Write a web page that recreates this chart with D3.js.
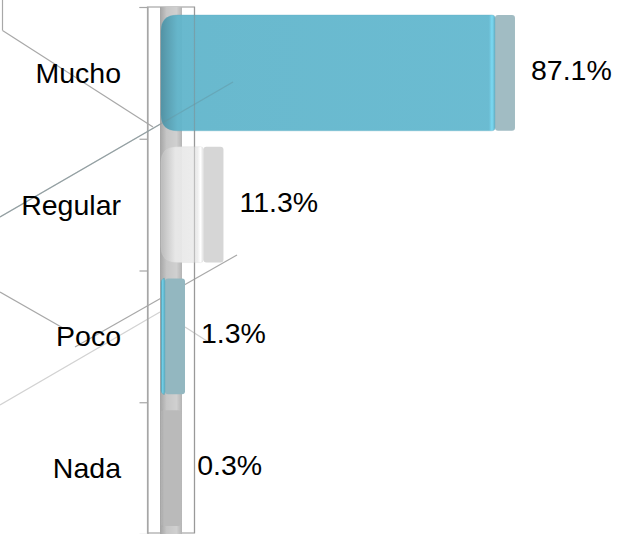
<!DOCTYPE html>
<html>
<head>
<meta charset="utf-8">
<script src="https://cdn.jsdelivr.net/npm/d3@7"></script>
<style>
  html, body { margin: 0; padding: 0; background: #fff; }
  svg { display: block; }
  text { font-family: "Liberation Sans", Arial, sans-serif; }
</style>
</head>
<body>
<div id="chart"></div>
<script>
// Survey answers and their shares (%)
const categories = ["Mucho", "Regular", "Poco", "Nada"];
const values = [87.1, 11.3, 1.3, 0.3];
const valueLabels = ["87.1%", "11.3%", "1.3%", "0.3%"];

// Face colour and side (depth) colour for each bar
const faceColors = ["#63b8cf", "#ececec", "#5fb5cc", "#bdbdbd"];
const sideColors = ["#a1bcc3", "#d6d6d6", "#93b7c0", "#bababa"];

const W = 621, H = 534;
const depth = 20;          // visible length of the 3D side of a bar
const floorW = 22;         // width of the shaded floor under the bars

const svg = d3.select("#chart").append("svg")
  .attr("width", W).attr("height", H);
svg.append("rect").attr("width", W).attr("height", H).attr("fill", "#fff");

const x = d3.scaleLinear().domain([0, 100]).range([160, 544.6]);
const y = d3.scaleBand().domain(categories).range([7, 534])
  .paddingInner(0.12).paddingOuter(0.06);
const yTicks = d3.scaleLinear().domain([0, categories.length]).range([7, 534]);

const defs = svg.append("defs");

// Perspective guide lines of the rotated plot area
const guides = [
  { p: [[2.5, 0], [2.5, 30.5]], c: "#a8a8a8" },
  { p: [[2.5, 30.5], [153, 127]], c: "#a8a8a8" },
  { p: [[0, 217], [233, 82]], c: "#a8a8a8" },
  { p: [[0, 292], [63, 328]], c: "#a8a8a8" },
  { p: [[237, 255], [75, 347]], c: "#a8a8a8" },
  { p: [[0, 405], [160, 312]], c: "#d2d2d2" },
  { p: [[185, 327], [210, 343]], c: "#cfcfcf" }
];
const line = d3.line();
svg.append("g").selectAll("path").data(guides).join("path")
  .attr("d", d => line(d.p))
  .attr("fill", "none").attr("stroke", d => d.c).attr("stroke-width", 1.2);

// Back wall outline
const wallL = 147.5, wallR = 194.5;
svg.append("rect")
  .attr("x", wallL).attr("y", 7).attr("width", wallR - wallL).attr("height", 526)
  .attr("fill", "none").attr("stroke", "#a6a6a6").attr("stroke-width", 1.2);

// Shaded floor strip along the zero line
const floorGrad = defs.append("linearGradient").attr("id", "floorGrad")
  .attr("x1", 0).attr("x2", 1).attr("y1", 0).attr("y2", 0);
[["0", "#a4a4a4"], ["0.3", "#c6c6c6"], ["0.75", "#d0d0d0"], ["1", "#b4b4b4"]]
  .forEach(([o, c]) => floorGrad.append("stop").attr("offset", o).attr("stop-color", c));
svg.append("rect")
  .attr("x", x(0)).attr("y", 7).attr("width", floorW).attr("height", 527)
  .attr("fill", "url(#floorGrad)");

// Axis with tick marks at the category boundaries
const axis = d3.axisLeft(yTicks).tickValues(d3.range(categories.length + 1))
  .tickSize(8).tickFormat("");
const axG = svg.append("g").attr("transform", `translate(${wallL},0)`).call(axis);
axG.selectAll("path, line").attr("stroke", "#a6a6a6").attr("stroke-width", 1.2);

// Bars: side face then front face
const bars = svg.append("g").selectAll("g").data(categories).join("g");

bars.append("rect")
  .attr("x", (d, i) => x(values[i]))
  .attr("y", d => y(d))
  .attr("width", depth)
  .attr("height", y.bandwidth())
  .attr("rx", 3)
  .attr("fill", (d, i) => sideColors[i]);

// Horizontal shading for each front face
categories.forEach((d, i) => {
  const c = d3.color(faceColors[i]);
  const g = defs.append("linearGradient").attr("id", "face" + i)
    .attr("gradientUnits", "userSpaceOnUse")
    .attr("x1", x(0)).attr("x2", x(values[i]) + 0.01).attr("y1", 0).attr("y2", 0);
  const span = Math.max(x(values[i]) - x(0), 1);
  const stop = (px, col) => g.append("stop")
    .attr("offset", Math.min(1, Math.max(0, px / span))).attr("stop-color", col);
  stop(0, c.darker(0.7));
  stop(Math.min(18, span * 0.35), c.darker(0.05));
  stop(span - 6, c);
  stop(span - 3, c.brighter(0.45));
  stop(span, c.darker(0.15));
});

function frontPath(i, d) {
  const x0 = x(0) + 1, x1 = x(values[i]);
  const y0 = y(d), y1 = y(d) + y.bandwidth();
  const w = Math.max(x1 - x0, 2);
  const r = Math.min(16, w);
  const rr = Math.min(3, w / 2);
  const p = d3.path();
  p.moveTo(x0 + r, y0);
  p.lineTo(x0 + w - rr, y0);
  p.quadraticCurveTo(x0 + w, y0, x0 + w, y0 + rr);
  p.lineTo(x0 + w, y1 - rr);
  p.quadraticCurveTo(x0 + w, y1, x0 + w - rr, y1);
  p.lineTo(x0 + r, y1);
  p.quadraticCurveTo(x0, y1, x0, y1 - r);
  p.lineTo(x0, y0 + r);
  p.quadraticCurveTo(x0, y0, x0 + r, y0);
  p.closePath();
  return p.toString();
}

bars.append("path")
  .attr("d", (d, i) => frontPath(i, d))
  .attr("fill", (d, i) => `url(#face${i})`)
  .attr("fill-opacity", 0.95)
  .attr("stroke", (d, i) => d3.color(faceColors[i]).darker(0.3))
  .attr("stroke-opacity", 0.35)
  .attr("stroke-width", 0.8);

// Wall edge and a guide seen through the bars
svg.append("line")
  .attr("x1", wallR).attr("x2", wallR).attr("y1", 7).attr("y2", 533)
  .attr("stroke", "#8a8a8a").attr("stroke-opacity", 0.45).attr("stroke-width", 1.2);
svg.append("path").attr("d", line(guides[2].p))
  .attr("fill", "none").attr("stroke", "#6a8f99").attr("stroke-opacity", 0.35)
  .attr("stroke-width", 1.2);

// Category labels
svg.append("g").selectAll("text").data(categories).join("text")
  .attr("x", 121)
  .attr("y", d => y(d) + y.bandwidth() / 2)
  .attr("dy", "0.35em")
  .attr("text-anchor", "end")
  .attr("font-size", 28.5)
  .attr("fill", "#000")
  .text(d => d);

// Value labels
svg.append("g").selectAll("text").data(categories).join("text")
  .attr("x", (d, i) => x(values[i]) + depth + 16)
  .attr("y", d => y(d) + y.bandwidth() / 2 - 3)
  .attr("dy", "0.35em")
  .attr("font-size", 28.5)
  .attr("fill", "#000")
  .text((d, i) => valueLabels[i]);
</script>
</body>
</html>
